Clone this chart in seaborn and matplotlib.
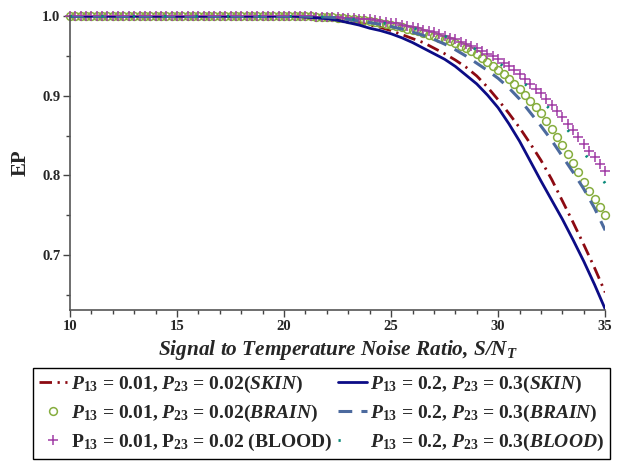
import numpy as np
import pandas as pd
import matplotlib
matplotlib.use('Agg')
import matplotlib.pyplot as plt
from matplotlib.ticker import MultipleLocator
import seaborn as sns

# x grid (S/N_T). lines: flat part + every 0.5 from 20, markers: every 0.25
snr_line = [10.0, 15.0] + list(np.arange(20.0, 35.01, 0.5))
snr_mark = list(np.arange(10.0, 35.01, 0.25))

# P13 = 0.01, P23 = 0.02
ep_skin_low = [1.0, 1.0,
               1.0, 1.0, 0.999, 0.999, 0.998, 0.996, 0.994, 0.992, 0.989, 0.986,
               0.982, 0.977, 0.972, 0.967, 0.960, 0.953, 0.945, 0.936, 0.925, 0.911,
               0.895, 0.878, 0.860, 0.840, 0.819, 0.795, 0.768, 0.741, 0.713, 0.684,
               0.653]
ep_brain_low = [1.0] * 40 + [
    1.000, 1.000, 1.000, 1.000,
    1.000, 0.9998, 0.9995, 0.9992,
    0.999, 0.9985, 0.998, 0.9975,
    0.997, 0.996, 0.9953, 0.9947,
    0.994, 0.993, 0.9915, 0.990,
    0.989, 0.9875, 0.986, 0.9845,
    0.983, 0.981, 0.979, 0.977,
    0.975, 0.973, 0.971, 0.9685,
    0.966, 0.963, 0.960, 0.9565,
    0.953, 0.948, 0.943, 0.938,
    0.933, 0.927, 0.921, 0.9145,
    0.908, 0.901, 0.8935, 0.886,
    0.878, 0.868, 0.858, 0.848,
    0.838, 0.827, 0.815, 0.804,
    0.792, 0.781, 0.771, 0.760,
    0.750]
ep_blood_low = [1.0] * 40 + [
    1.000, 1.000, 1.000, 1.000,
    1.000, 0.9998, 0.9995, 0.9993,
    0.999, 0.9987, 0.9985, 0.9982,
    0.998, 0.9975, 0.997, 0.9965,
    0.996, 0.995, 0.994, 0.993,
    0.992, 0.991, 0.9895, 0.988,
    0.987, 0.985, 0.983, 0.9815,
    0.980, 0.978, 0.9755, 0.973,
    0.971, 0.968, 0.9655, 0.963,
    0.960, 0.9565, 0.953, 0.9495,
    0.946, 0.9415, 0.937, 0.932,
    0.927, 0.921, 0.915, 0.909,
    0.903, 0.8955, 0.888, 0.8805,
    0.873, 0.865, 0.857, 0.8485,
    0.840, 0.831, 0.823, 0.814,
    0.805]

# P13 = 0.2, P23 = 0.3
ep_skin_high = [1.0, 1.0,
                1.0, 1.0, 0.999, 0.998, 0.997, 0.995, 0.992, 0.989, 0.985, 0.982,
                0.978, 0.973, 0.967, 0.960, 0.953, 0.946, 0.937, 0.926, 0.915, 0.901,
                0.885, 0.865, 0.843, 0.818, 0.793, 0.769, 0.745, 0.719, 0.692, 0.663,
                0.632]
ep_brain_high = [1.0, 1.0,
                 1.0, 1.0, 1.0, 0.9995, 0.999, 0.998, 0.996, 0.994, 0.992, 0.990,
                 0.987, 0.984, 0.980, 0.976, 0.971, 0.965, 0.958, 0.950, 0.941, 0.932,
                 0.922, 0.910, 0.896, 0.879, 0.862, 0.844, 0.824, 0.804, 0.783, 0.759,
                 0.731]
ep_blood_high = [1.0, 1.0,
                 1.0, 1.0, 1.0, 0.9995, 0.999, 0.998, 0.997, 0.9955, 0.994, 0.992,
                 0.990, 0.988, 0.985, 0.982, 0.979, 0.975, 0.970, 0.964, 0.958, 0.951,
                 0.942, 0.932, 0.921, 0.909, 0.895, 0.881, 0.866, 0.848, 0.829, 0.810,
                 0.790]

labels = [
    r'$\mathbfit{P}_\mathbf{13}$ = 0.01, $\mathbfit{P}_\mathbf{23}$ = 0.02($\mathbfit{SKIN}$)',
    r'$\mathbfit{P}_\mathbf{13}$ = 0.01, $\mathbfit{P}_\mathbf{23}$ = 0.02($\mathbfit{BRAIN}$)',
    r'$\mathbf{P}_\mathbf{13}$ = 0.01, $\mathbf{P}_\mathbf{23}$ = 0.02 (BLOOD)',
    r'$\mathbfit{P}_\mathbf{13}$ = 0.2, $\mathbfit{P}_\mathbf{23}$ = 0.3($\mathbfit{SKIN}$)',
    r'$\mathbfit{P}_\mathbf{13}$ = 0.2, $\mathbfit{P}_\mathbf{23}$ = 0.3($\mathbfit{BRAIN}$)',
    r'$\mathbfit{P}_\mathbf{13}$ = 0.2, $\mathbfit{P}_\mathbf{23}$ = 0.3($\mathbfit{BLOOD}$)',
]

sns.set_style('ticks')
plt.rcParams['font.family'] = ['Liberation Serif', 'DejaVu Serif']
plt.rcParams['mathtext.fontset'] = 'custom'
plt.rcParams['mathtext.rm'] = 'Liberation Serif'
plt.rcParams['mathtext.bf'] = 'Liberation Serif:bold'
plt.rcParams['mathtext.it'] = 'Liberation Serif:italic'
plt.rcParams['mathtext.bfit'] = 'Liberation Serif:italic:bold'

fig = plt.figure(figsize=(6.22, 4.65), dpi=100)
ax = fig.add_axes([0.1125, 0.3335, 0.8605, 0.6315])

sns.lineplot(x=snr_line, y=ep_skin_low, ax=ax, color='#8c0a12', lw=2.0,
             linestyle=(0, (4.5, 2.0, 0.8, 2.0)), label=labels[0])
sns.lineplot(x=snr_mark, y=ep_brain_low, ax=ax, color='#86ad3e', linestyle='none',
             marker='o', ms=5.6, mfc='none', mec='#86ad3e', mew=1.1, label=labels[1],
             clip_on=False)
sns.lineplot(x=snr_mark, y=ep_blood_low, ax=ax, color='#a03ca5', linestyle='none',
             marker='+', ms=7, mec='#a03ca5', mew=1.1, label=labels[2], clip_on=False)
sns.lineplot(x=snr_line, y=ep_skin_high, ax=ax, color='#0c0c86', lw=2.0,
             linestyle='-', label=labels[3])
sns.lineplot(x=snr_line, y=ep_brain_high, ax=ax, color='#4c6a9e', lw=2.2,
             linestyle=(0, (4.5, 3.0)), label=labels[4])
sns.lineplot(x=snr_line, y=ep_blood_high, ax=ax, color='#0a8a7a', lw=2.0,
             linestyle=(0, (0.8, 10.5)), label=labels[5], clip_on=False)

ax.set_xlim(10, 35)
ax.set_ylim(0.631, 1.0)
ax.xaxis.set_major_locator(MultipleLocator(5))
ax.xaxis.set_minor_locator(MultipleLocator(1))
ax.yaxis.set_major_locator(MultipleLocator(0.1))
ax.yaxis.set_minor_locator(MultipleLocator(0.05))
ax.tick_params(which='major', length=5, width=1, color='#444444', labelsize=10.5, pad=2)
ax.tick_params(which='minor', length=3, width=1, color='#444444')
for lab in ax.get_xticklabels() + ax.get_yticklabels():
    lab.set_fontweight('bold')
sns.despine(ax=ax)
for side in ('left', 'bottom'):
    ax.spines[side].set_color('#555555')
    ax.spines[side].set_linewidth(1.2)

ax.set_xlabel(r'Signal to Temperature Noise Ratio, $\mathbfit{S/N}_\mathbfit{T}$',
              fontsize=15.3, fontweight='bold', fontstyle='italic', labelpad=4)
ax.set_ylabel('EP', fontsize=15, fontweight='bold', labelpad=8)

handles = ax.get_lines()
leg = ax.legend(handles, labels, ncol=2, loc='upper left',
                bbox_to_anchor=(0.053, 0.209), bbox_transform=fig.transFigure,
                frameon=True, fancybox=False, edgecolor='black', framealpha=1,
                prop={'weight': 'bold', 'size': 14}, numpoints=1,
                handlelength=1.45, handletextpad=0.2, columnspacing=0.3,
                labelspacing=0.42, borderpad=0.3, borderaxespad=0)
leg.get_frame().set_linewidth(1.0)

fig.savefig('out.png', dpi=100)
